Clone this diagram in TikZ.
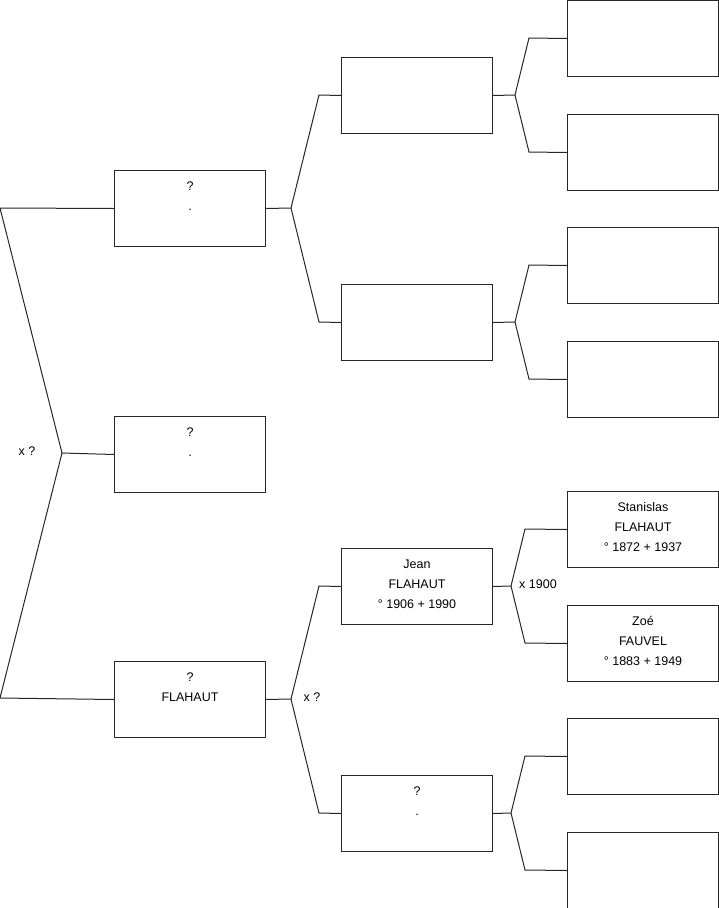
\documentclass[tikz,border=0pt]{standalone}
\usepackage{fontspec}
\setmainfont{Liberation Sans}
\newcommand\mystrut{\rule{0pt}{10pt}}
\begin{document}
\begin{tikzpicture}[x=1pt,y=-1pt,
  box/.style={draw=black!85, line width=1pt, minimum width=151pt, minimum height=76pt, anchor=north west, inner sep=0pt},
  txt/.style={font=\fontsize{12.5}{20}\selectfont, align=center, anchor=north, inner sep=0pt, yshift=-10.5pt},
  conn/.style={draw=black!85, line width=1pt},
  lbl/.style={font=\fontsize{12.5}{15}\selectfont, inner sep=0pt}]
\useasboundingbox (0,0) rectangle (719,908);
% level 1
\node[box] (a1) at (114,170) {};
\node[box] (a2) at (114,416) {};
\node[box] (a3) at (114,661) {};
% level 2
\node[box] (b1) at (341,57) {};
\node[box] (b2) at (341,284) {};
\node[box] (b3) at (341,548) {};
\node[box] (b4) at (341,775) {};
% level 3
\node[box] (c1) at (567,0) {};
\node[box] (c2) at (567,114) {};
\node[box] (c3) at (567,227) {};
\node[box] (c4) at (567,341) {};
\node[box] (c5) at (567,491) {};
\node[box] (c6) at (567,605) {};
\node[box] (c7) at (567,718) {};
\node[box] (c8) at (567,832) {};
% texts
\node[txt] (ta1) at (a1.north) {\mystrut?\\.};
\node[txt] (ta2) at (a2.north) {\mystrut?\\.};
\node[txt] (ta3) at (a3.north) {\mystrut?\\FLAHAUT};
\node[txt] (tb3) at (b3.north) {\mystrut Jean\\FLAHAUT\\° 1906 + 1990};
\node[txt] (tb4) at (b4.north) {\mystrut?\\.};
\node[txt] (tc5) at (c5.north) {\mystrut Stanislas\\FLAHAUT\\° 1872 + 1937};
\node[txt] (tc6) at (c6.north) {\mystrut Zoé\\FAUVEL\\° 1883 + 1949};
% left bracket
\coordinate (l0a) at (0,208);
\coordinate (l0) at (62,453);
\coordinate (l0c) at (0,698);
\draw[conn] (a1.west) -- (l0a) -- (l0) -- (l0c) -- (a3.west);
\draw[conn] (l0) -- (a2.west);
\node[lbl] (x0) at (27,451) {x ?};
% a1 -> b1, b2
\coordinate (j1) at (291,208);
\draw[conn] (a1.east) -- (j1);
\draw[conn] (j1) -- (319,95) -- (b1.west);
\draw[conn] (j1) -- (319,322) -- (b2.west);
% a3 -> b3, b4
\coordinate (j3) at (291,699);
\draw[conn] (a3.east) -- (j3);
\draw[conn] (j3) -- (319,586) -- (b3.west);
\draw[conn] (j3) -- (319,813) -- (b4.west);
\node[lbl] (x3) at (312,697) {x ?};
% b1 -> c1, c2
\coordinate (k1) at (515,95);
\draw[conn] (b1.east) -- (k1);
\draw[conn] (k1) -- (529,38) -- (c1.west);
\draw[conn] (k1) -- (529,152) -- (c2.west);
% b2 -> c3, c4
\coordinate (k2) at (515,322);
\draw[conn] (b2.east) -- (k2);
\draw[conn] (k2) -- (529,265) -- (c3.west);
\draw[conn] (k2) -- (529,379) -- (c4.west);
% b3 -> c5, c6
\coordinate (k3) at (511,586);
\draw[conn] (b3.east) -- (k3);
\draw[conn] (k3) -- (525,529) -- (c5.west);
\draw[conn] (k3) -- (525,643) -- (c6.west);
\node[lbl] (x5) at (538,584) {x 1900};
% b4 -> c7, c8
\coordinate (k4) at (511,813);
\draw[conn] (b4.east) -- (k4);
\draw[conn] (k4) -- (525,756) -- (c7.west);
\draw[conn] (k4) -- (525,870) -- (c8.west);
\end{tikzpicture}
\end{document}
